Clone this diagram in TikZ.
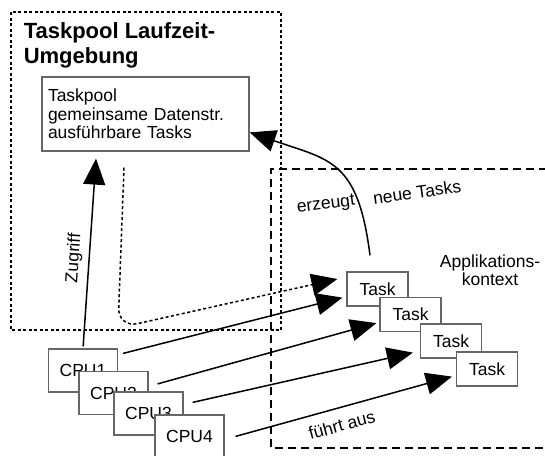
\documentclass[tikz,border=0pt]{standalone}
\usepackage{fontspec}
\setmainfont{Liberation Sans}
\usetikzlibrary{arrows.meta}

\begin{document}
\begin{tikzpicture}[x=1pt, y=-1pt, line width=1.5pt,
      >={Triangle[length=26pt,width=22pt]},
      every node/.append style={font=\fontsize{17.5}{18.5}\selectfont},
      box/.style={draw=black!60,line width=1.2pt,fill=white,inner sep=0pt},
      cpu/.style={box,minimum width=69pt,minimum height=43pt},
      task/.style={box,minimum width=61pt,minimum height=34pt}]
    \tikzstyle{region} = [line width=1.5pt,dash pattern=on 3pt off 2.5pt]
    \tikzstyle{appregion} = [line width=1.4pt,dash pattern=on 8pt off 5pt]
    \useasboundingbox (0,0) rectangle (545,455);
    \draw[region] (11,12) rectangle (281,330);
    \draw[appregion] (560,169) -- (271,169) -- (271,448) -- (560,448);
    \node (title) [anchor=north west,inner sep=0pt,align=left,
      font=\bfseries\fontsize{22}{25}\selectfont] at (23,22) {Taskpool Laufzeit-\\Umgebung};
    \node (pool) [box,text width=195pt,inner xsep=6pt,minimum height=74pt,align=left]
      at (145.5,114) {Taskpool\\gemeinsame Datenstr.\\ausführbare Tasks};
    \node (app) [align=center,inner sep=0pt] at (490,270) {Applikations-\\kontext};
    \node (T1) [task] at (377.5,289) {Task};
    \node (T2) [task] at (410.5,314.5) {Task};
    \node (T3) [task] at (451,341) {Task};
    \node (T4) [task] at (487,369) {Task};
    \node (cpu1) [cpu] at (83,370.5) {CPU1};
    \node (cpu2) [cpu] at (113.5,393) {CPU2};
    \node (cpu3) [cpu] at (148.5,413.5) {CPU3};
    \node (cpu4) [cpu] at (189.5,436.5) {CPU4};
    \draw[->,shorten <=2pt] (cpu1.north) -- ([xshift=-49.5pt,yshift=-7pt]pool.south)
      node [pos=0.47,sloped,above=5pt,inner sep=1pt] {Zugriff};
    \draw[->,region,rounded corners=20pt] ([xshift=-21.5pt,yshift=-16pt]pool.south)
      -- (118,328) -- ([xshift=-9pt,yshift=10pt]T1.west);
    \draw[->] ([xshift=-7.5pt,yshift=16pt]T1.north) .. controls (358,160) and (330,160) .. (pool.-10);
    \node (erz) [rotate=7,inner sep=1pt] at (326,205) {erzeugt};
    \node (neu) [rotate=8,inner sep=1pt] at (417,192) {neue Tasks};
    \draw[->] ([xshift=5pt,yshift=-5pt]cpu1.north east) -- ([xshift=-4pt,yshift=9pt]T1.south west);
    \draw[->] ([xshift=9pt,yshift=-13pt]cpu2.north east) -- ([xshift=-3pt,yshift=9pt]T2.south west);
    \draw[->] ([xshift=9pt,yshift=-11pt]cpu3.north east) -- ([xshift=-7pt,yshift=6pt]T3.south west);
    \draw[->] ([xshift=11pt,yshift=-22pt]cpu4.north east) -- ([xshift=-4pt,yshift=10pt]T4.south west)
      node [pos=0.47,sloped,below=9pt,inner sep=1pt] {führt aus};
\end{tikzpicture}
\end{document}
